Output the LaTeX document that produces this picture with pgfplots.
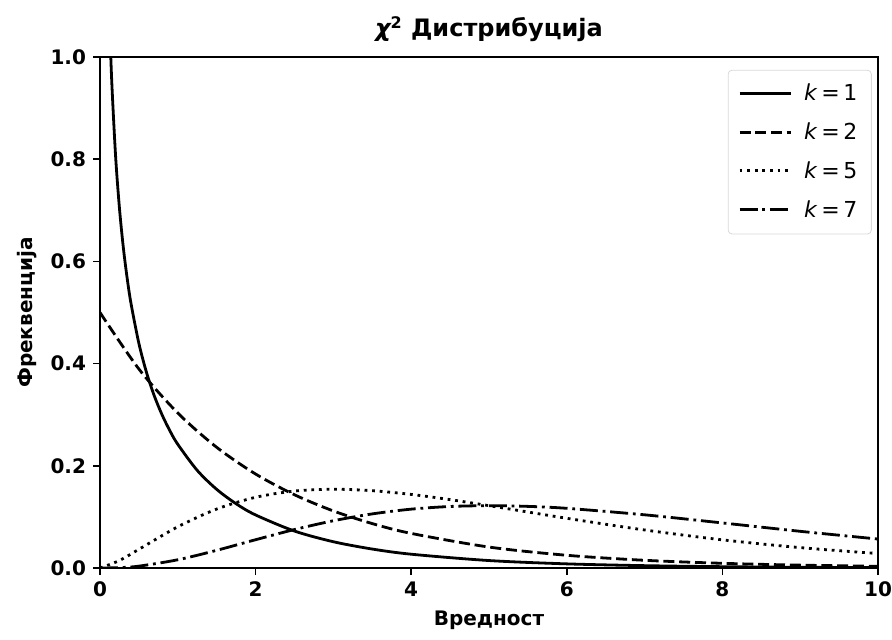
\documentclass[border=0pt]{standalone}
\usepackage{fontspec}
\setmainfont{DejaVu Sans}
\usepackage{pgfplots}
\pgfplotsset{compat=1.18}
\usetikzlibrary{calc}
\begin{document}
\begin{tikzpicture}
\begin{axis}[
  name=ax,
  scale only axis,
  width=389pt, height=255.5pt,
  xmin=0, xmax=10, ymin=0, ymax=1,
  xtick={0,2,4,6,8,10},
  ytick={0,0.2,0.4,0.6,0.8,1.0},
  yticklabel style={/pgf/number format/fixed,/pgf/number format/fixed zerofill,/pgf/number format/precision=1},
  /pgf/number format/assume math mode=true,
  ticklabel style={font=\fontsize{10}{12}\selectfont\bfseries},
  tick align=outside,
  xtick pos=bottom, ytick pos=left,
  major tick length=3.5pt,
  tick style={black, line width=0.8pt},
  axis line style={black, line width=0.9pt},
  title={\bfseries{\itshape χ}\textsuperscript{2} Дистрибуција},
  title style={font=\fontsize{12}{14}\selectfont, yshift=-2pt},
  xlabel={Вредност},
  ylabel={Фреквенција},
  label style={font=\fontsize{10}{12}\selectfont\bfseries},
  legend style={at={(0.992,0.975)}, anchor=north east, draw=black!15, rounded corners=2pt,
    font=\fontsize{11}{13}\selectfont, row sep=5.5pt, inner xsep=5pt, inner ysep=5pt},
  legend cell align=left,
  legend image code/.code={\draw[#1] (0cm,0.3pt) -- (0.9cm,0.3pt);},
]
\coordinate (bl) at (rel axis cs:0,0);
\coordinate (tr) at (rel axis cs:1,1);
% k=1
\addplot[black, line width=1.4pt, smooth] coordinates {
(0.12,1.0846) (0.15,0.9556) (0.2,0.8071) (0.25,0.7041) (0.3,0.6269) (0.35,0.5661) (0.4,0.5164)
(0.5,0.4394) (0.6,0.3815) (0.7,0.3360) (0.8,0.2990) (0.9,0.2681) (1.0,0.2420)
(1.25,0.1910) (1.5,0.1539) (1.75,0.1257) (2,0.1038) (2.5,0.0723) (3,0.0514)
(3.5,0.0371) (4,0.0270) (5,0.0146) (6,0.0081) (7,0.0046) (8,0.0026) (9,0.0015) (10,0.00085)};
\addlegendentry{\hspace{4pt}\textit{k}\,=\,1}
% k=2
\addplot[black, line width=1.4pt, dash pattern=on 5.5pt off 2.4pt, smooth] coordinates {
(0,0.5) (0.5,0.3894) (1,0.3033) (1.5,0.2362) (2,0.1839) (2.5,0.1433) (3,0.1116)
(3.5,0.0869) (4,0.0677) (5,0.0410) (6,0.0249) (7,0.0151) (8,0.0092) (9,0.0056) (10,0.0034)};
\addlegendentry{\hspace{4pt}\textit{k}\,=\,2}
% k=5
\addplot[black, line width=1.4pt, dash pattern=on 1.4pt off 2.4pt, smooth] coordinates {
(0,0) (0.25,0.01467) (0.5,0.03662) (1,0.08066) (1.5,0.1154) (2,0.1384) (2.5,0.1506)
(3,0.1542) (3.5,0.1513) (4,0.1440) (4.5,0.1338) (5,0.1220) (6,0.0973) (7,0.0744)
(8,0.0551) (9,0.0399) (10,0.0283)};
\addlegendentry{\hspace{4pt}\textit{k}\,=\,5}
% k=7
\addplot[black, line width=1.4pt, dash pattern=on 9pt off 2.4pt on 1.4pt off 2.4pt, smooth] coordinates {
(0,0) (0.25,0.00073) (0.5,0.00366) (1,0.01613) (1.5,0.03462) (2,0.05535) (2.5,0.07530)
(3,0.09250) (3.5,0.1059) (4,0.1152) (4.5,0.1204) (5,0.1220) (5.5,0.1206) (6,0.1168)
(7,0.1041) (8,0.0882) (9,0.0718) (10,0.0567)};
\addlegendentry{\hspace{4pt}\textit{k}\,=\,7}
\end{axis}
\pgfresetboundingbox
\useasboundingbox ($(bl)+(-50pt,-35.5pt)$) rectangle ($(tr)+(7pt,28.5pt)$);
\end{tikzpicture}
\end{document}
